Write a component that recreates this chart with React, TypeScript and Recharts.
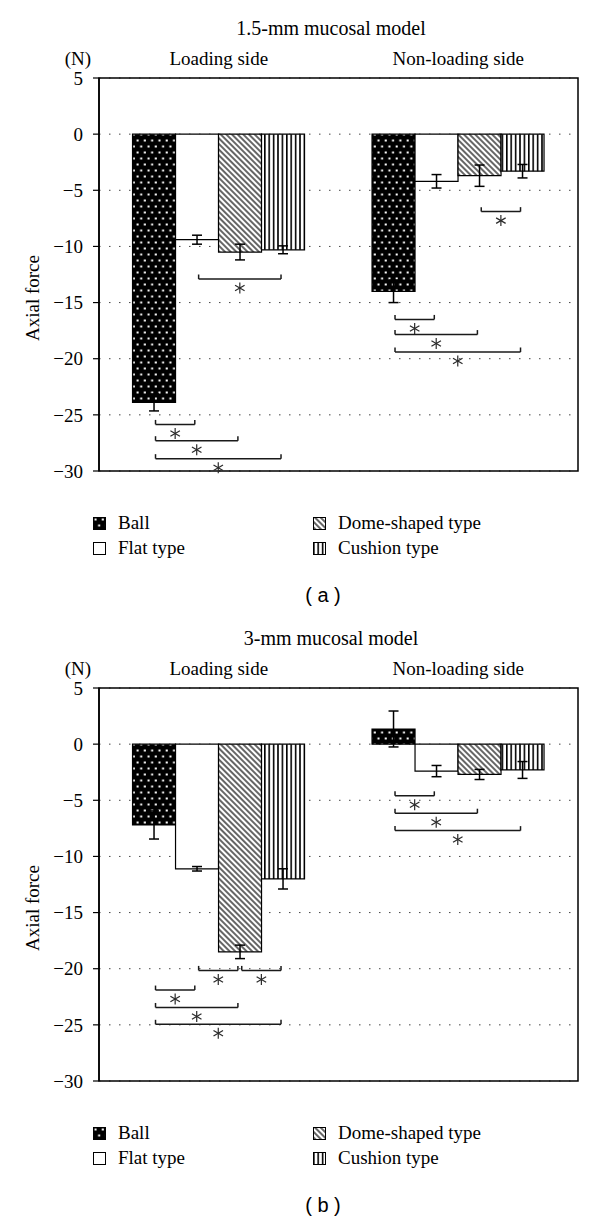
import React from "react";
import { BarChart, Bar, XAxis, YAxis, CartesianGrid, ErrorBar, ReferenceLine, ReferenceArea } from "recharts";

const sides = ["Loading side", "Non-loading side"];
const seriesNames = ["Ball", "Flat type", "Dome-shaped type", "Cushion type"];
const seriesKeys = ["ball", "flat", "dome", "cushion"];
const yTicks = [5, 0, -5, -10, -15, -20, -25, -30];

// (a) 1.5-mm mucosal model, values per side [loading, non-loading]
const ballA = [-23.9, -14.0];
const ballErrA = [0.75, 1.0];
const flatA = [-9.4, -4.2];
const flatErrA = [0.4, 0.6];
const domeA = [-10.5, -3.7];
const domeErrA = [0.7, 0.95];
const cushionA = [-10.3, -3.3];
const cushionErrA = [0.35, 0.6];

// (b) 3-mm mucosal model
const ballB = [-7.2, 1.35];
const ballErrB = [1.25, 1.6];
const flatB = [-11.1, -2.4];
const flatErrB = [0.2, 0.5];
const domeB = [-18.5, -2.7];
const domeErrB = [0.6, 0.45];
const cushionB = [-12.0, -2.3];
const cushionErrB = [0.9, 0.75];

// significance brackets: side, from bar, to bar, level (N)
type Bracket = { side: number; from: number; to: number; y: number };
const bracketsA: Bracket[] = [
  { side: 0, from: 1, to: 3, y: -12.9 },
  { side: 0, from: 0, to: 1, y: -25.85 },
  { side: 0, from: 0, to: 2, y: -27.3 },
  { side: 0, from: 0, to: 3, y: -28.9 },
  { side: 1, from: 2, to: 3, y: -6.9 },
  { side: 1, from: 0, to: 1, y: -16.5 },
  { side: 1, from: 0, to: 2, y: -17.85 },
  { side: 1, from: 0, to: 3, y: -19.4 },
];
const bracketsB: Bracket[] = [
  { side: 0, from: 1, to: 2, y: -20.15 },
  { side: 0, from: 2, to: 3, y: -20.15 },
  { side: 0, from: 0, to: 1, y: -21.9 },
  { side: 0, from: 0, to: 2, y: -23.45 },
  { side: 0, from: 0, to: 3, y: -24.95 },
  { side: 1, from: 0, to: 1, y: -4.6 },
  { side: 1, from: 0, to: 2, y: -6.15 },
  { side: 1, from: 0, to: 3, y: -7.7 },
];

const SERIF = "'Liberation Serif', 'Times New Roman', serif";
const GAP = 0.14;
const BAR = (1 - 2 * GAP) / 4;
// position along the plot width, 0..1 (each side takes half)
const barCenter = (side: number, i: number) => (side + GAP + (i + 0.5) * BAR) / 2;
const fmt = (v: number) => (v < 0 ? "\u2212" + Math.abs(v) : String(v));

function Star(props: any) {
  const vb = props.viewBox || { x: 0, y: 0, width: 0 };
  const cx = vb.x + vb.width / 2;
  const cy = vb.y + 9;
  const r = 5.5;
  const angles = [90, 30, 150];
  return (
    <g stroke="#2a2a2a" strokeWidth={1.2}>
      {angles.map((a) => {
        const dx = r * Math.cos((a * Math.PI) / 180);
        const dy = r * Math.sin((a * Math.PI) / 180);
        return <line key={a} x1={cx - dx} y1={cy - dy} x2={cx + dx} y2={cy + dy} />;
      })}
    </g>
  );
}

function Patterns({ p }: { p: string }) {
  return (
    <defs>
      <pattern id={p + "ball"} width="7.3" height="12" patternUnits="userSpaceOnUse">
        <rect width="7.3" height="12" fill="#000" />
        <rect x="1.5" y="1.5" width="2" height="2" fill="#fff" />
        <rect x="5.15" y="7.5" width="2" height="2" fill="#fff" />
      </pattern>
      <pattern id={p + "flat"} width="4" height="4" patternUnits="userSpaceOnUse">
        <rect width="4" height="4" fill="#fff" />
      </pattern>
      <pattern id={p + "dome"} width="4" height="4" patternUnits="userSpaceOnUse" patternTransform="rotate(-45)">
        <rect width="4" height="4" fill="#fff" />
        <line x1="1" y1="0" x2="1" y2="4" stroke="#000" strokeWidth="1.2" />
      </pattern>
      <pattern id={p + "cushion"} width="4.4" height="10" patternUnits="userSpaceOnUse">
        <rect width="4.4" height="10" fill="#fff" />
        <rect x="0" width="1.6" height="10" fill="#000" />
      </pattern>
    </defs>
  );
}

function Swatch({ k }: { k: string }) {
  return (
    <svg width={13} height={13} style={{ display: "block" }}>
      <Patterns p={"lg" + k} />
      <rect x={0.5} y={0.5} width={12} height={12} fill={`url(#lg${k}${k})`} stroke="#000" strokeWidth={1} />
    </svg>
  );
}

type PanelProps = {
  id: string;
  title: string;
  caption: string;
  values: number[][];
  errors: number[][];
  brackets: Bracket[];
};

function Panel({ id, title, caption, values, errors, brackets }: PanelProps) {
  const rows = sides.map((side, i) => {
    const row: Record<string, string | number> = { side };
    seriesKeys.forEach((k, s) => {
      row[k] = values[s][i];
      row[k + "Err"] = errors[s][i];
    });
    return row;
  });

  const lineStyle = { stroke: "#1a1a1a", strokeWidth: 1.5 };

  return (
    <div style={{ position: "relative", width: 600, height: 610 }}>
      <BarChart
        width={600}
        height={610}
        data={rows}
        margin={{ top: 48, right: 22, bottom: 139, left: 39 }}
        barCategoryGap={`${GAP * 100}%`}
        barGap={0}
      >
        <Patterns p={id} />
        <CartesianGrid xAxisId="cat" vertical={false} stroke="#444" strokeDasharray="1.5 8.5" />
        <XAxis
          xAxisId="cat"
          dataKey="side"
          orientation="top"
          height={30}
          axisLine={false}
          tickLine={false}
          tickSize={0}
          tickMargin={13}
          tick={{ fontSize: 19, fontFamily: SERIF, fill: "#000" }}
        />
        <XAxis xAxisId="pos" type="number" domain={[0, 1]} allowDataOverflow hide />
        <YAxis
          type="number"
          domain={[-30, 5]}
          ticks={yTicks}
          interval={0}
          width={60}
          tickSize={6}
          tickMargin={10}
          tickFormatter={fmt}
          axisLine={{ stroke: "#000", strokeWidth: 1.5 }}
          tickLine={{ stroke: "#000", strokeWidth: 1.2 }}
          tick={{ fontSize: 19, fontFamily: SERIF, fill: "#000" }}
        />
        {seriesKeys.map((k, s) => (
          <Bar
            key={k}
            xAxisId="cat"
            dataKey={k}
            name={seriesNames[s]}
            fill={`url(#${id}${k})`}
            stroke="#000"
            strokeWidth={1.2}
            isAnimationActive={false}
          >
            <ErrorBar dataKey={k + "Err"} direction="y" width={5} stroke="#000" strokeWidth={1.5} />
          </Bar>
        ))}
        <ReferenceArea
          xAxisId="pos"
          x1={0}
          x2={1}
          y1={-30}
          y2={5}
          fill="none"
          stroke="#000"
          strokeWidth={1.5}
          ifOverflow="visible"
        />
        {brackets.flatMap((b, n) => {
          const x1 = barCenter(b.side, b.from) + 0.003;
          const x2 = barCenter(b.side, b.to) - 0.005;
          return [
            <ReferenceLine
              key={`h${n}`}
              xAxisId="pos"
              segment={[{ x: x1, y: b.y }, { x: x2, y: b.y }]}
              {...lineStyle}
              label={<Star />}
            />,
            <ReferenceLine key={`l${n}`} xAxisId="pos" segment={[{ x: x1, y: b.y }, { x: x1, y: b.y + 0.4 }]} {...lineStyle} />,
            <ReferenceLine key={`r${n}`} xAxisId="pos" segment={[{ x: x2, y: b.y }, { x: x2, y: b.y + 0.4 }]} {...lineStyle} />,
          ];
        })}
      </BarChart>

      <div style={{ position: "absolute", left: 181, width: 300, top: 17, textAlign: "center", fontSize: 20, lineHeight: "22px", fontFamily: SERIF }}>
        {title}
      </div>
      <div style={{ position: "absolute", left: 58, width: 40, top: 47.6, textAlign: "center", fontSize: 19, lineHeight: "22px", fontFamily: SERIF }}>
        (N)
      </div>
      <div
        style={{
          position: "absolute",
          left: 33 - 60,
          top: 298 - 11,
          width: 120,
          height: 22,
          textAlign: "center",
          fontSize: 19,
          lineHeight: "22px",
          fontFamily: SERIF,
          transform: "rotate(-90deg)",
        }}
      >
        Axial force
      </div>

      {seriesKeys.map((k, s) => (
        <div
          key={k}
          style={{
            position: "absolute",
            left: s < 2 ? 93 : 313,
            top: (s % 2 === 0 ? 523 : 548) - 11,
            height: 22,
            display: "flex",
            alignItems: "center",
            fontSize: 19,
            lineHeight: "22px",
            fontFamily: SERIF,
          }}
        >
          <Swatch k={k} />
          <span style={{ marginLeft: 12 }}>{seriesNames[s]}</span>
        </div>
      ))}

      <div style={{ position: "absolute", left: 273, width: 100, top: 584, textAlign: "center", fontSize: 20, lineHeight: "22px", fontFamily: "'Liberation Sans', Arial, sans-serif" }}>
        {caption}
      </div>
    </div>
  );
}

export default function App() {
  return (
    <div style={{ position: "absolute", left: 0, top: 0, width: 600, height: 1219, background: "#fff" }}>
      <Panel
        id="pa"
        title="1.5-mm mucosal model"
        caption="( a )"
        values={[ballA, flatA, domeA, cushionA]}
        errors={[ballErrA, flatErrA, domeErrA, cushionErrA]}
        brackets={bracketsA}
      />
      <Panel
        id="pb"
        title="3-mm mucosal model"
        caption="( b )"
        values={[ballB, flatB, domeB, cushionB]}
        errors={[ballErrB, flatErrB, domeErrB, cushionErrB]}
        brackets={bracketsB}
      />
    </div>
  );
}
